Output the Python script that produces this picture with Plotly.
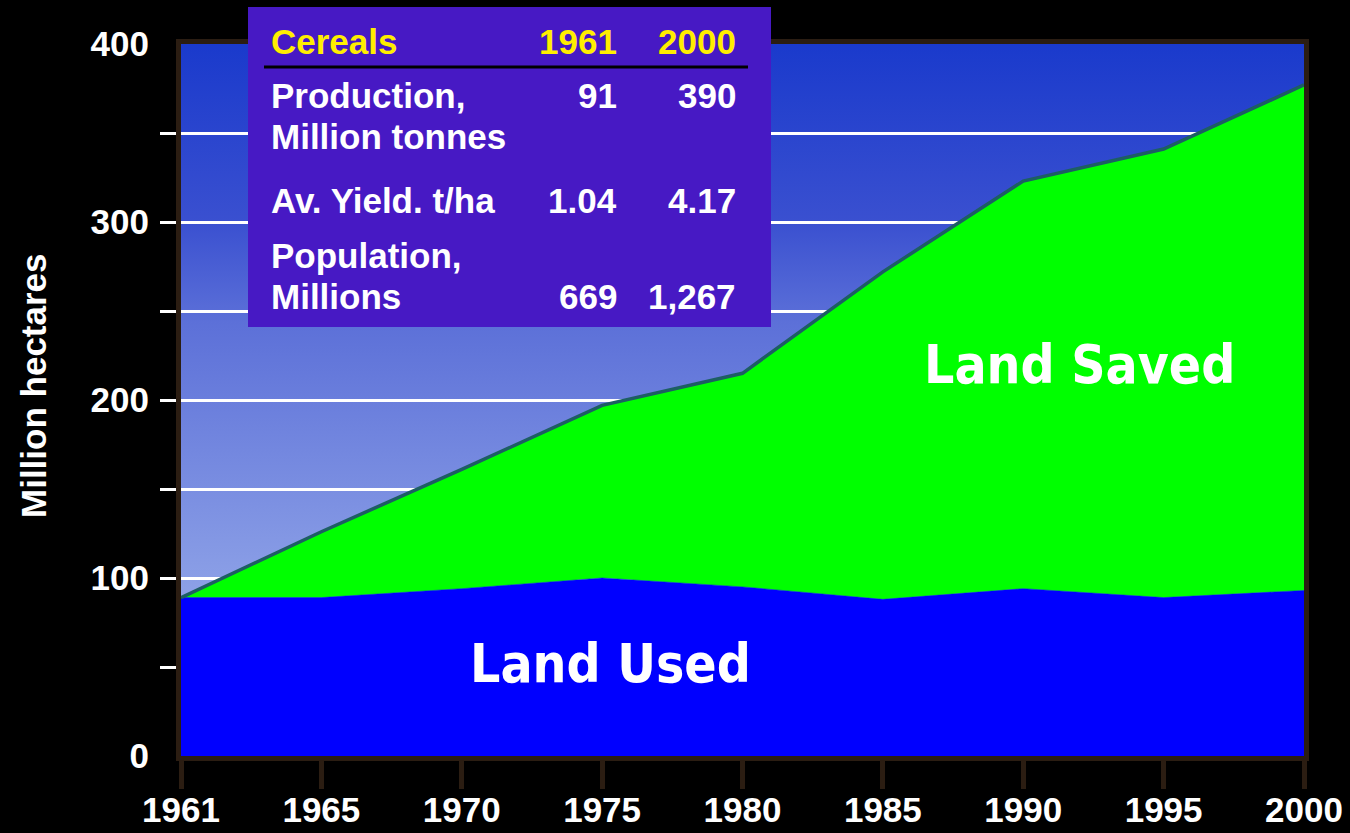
import base64
import plotly.graph_objects as go

# ---- data ----
years = ["1961", "1965", "1970", "1975", "1980", "1985", "1990", "1995", "2000"]
land_used = [89, 89, 94, 100, 95, 88, 94, 89, 93]          # million ha
land_needed = [89, 126, 161, 197, 215, 272, 323, 341, 377]  # million ha (top of green)
y_label_ticks = [0, 100, 200, 300, 400]
y_grid_ticks = [50, 100, 150, 200, 250, 300, 350]

table_header = ["Cereals", "1961", "2000"]
table_labels = [["Production,", "Million tonnes"], ["Av. Yield. t/ha"], ["Population,", "Millions"]]
table_1961 = ["91", "1.04", "669"]
table_2000 = ["390", "4.17", "1,267"]

BOLD = "Liberation Sans, Arial, sans-serif"
WIDE = "DejaVu Sans Condensed, DejaVu Sans, Verdana, sans-serif"
FRAME = "#2b1d12"

# layout geometry (pixels)
W, H = 1350, 833
ML, MR, MT, MB = 181, 46, 44, 77
PW, PH = W - ML - MR, H - MT - MB


def xp(px):
    return (px - ML) / PW


def yp(py):
    return (H - MB - py) / PH


# gradient background as svg image
svg = (
    "<svg xmlns='http://www.w3.org/2000/svg' width='100' height='100' preserveAspectRatio='none'>"
    "<defs><linearGradient id='g' x1='0' y1='0' x2='0' y2='1'>"
    "<stop offset='0' stop-color='#1a3acc'/>"
    "<stop offset='0.25' stop-color='#3a50d0'/>"
    "<stop offset='0.39' stop-color='#5c70d8'/>"
    "<stop offset='0.75' stop-color='#8a9ee6'/>"
    "<stop offset='1' stop-color='#afbff0'/>"
    "</linearGradient></defs><rect width='100' height='100' fill='url(#g)'/></svg>"
)
svg_uri = "data:image/svg+xml;base64," + base64.b64encode(svg.encode()).decode()

fig = go.Figure()
fig.add_trace(go.Scatter(
    x=years, y=land_used, mode="lines", fill="tozeroy",
    fillcolor="#0000ff", line=dict(color="#0000ff", width=0.5),
    showlegend=False, hoverinfo="skip"))
fig.add_trace(go.Scatter(
    x=years, y=land_needed, mode="lines", fill="tonexty",
    fillcolor="#00ff00", line=dict(color="#1d5e63", width=3.5),
    showlegend=False, hoverinfo="skip"))
# invisible trace to carry the label axes
fig.add_trace(go.Scatter(
    x=years, y=land_used, mode="lines", xaxis="x2", yaxis="y2", opacity=0,
    line=dict(width=0), showlegend=False, hoverinfo="skip"))

annotations = [
    dict(text="Land Saved", x=6.4, y=220, xref="x", yref="y", showarrow=False,
         font=dict(family=WIDE, size=53, color="white", weight="bold")),
    dict(text="Land Used", x=3.06, y=52, xref="x", yref="y", showarrow=False,
         font=dict(family=WIDE, size=53, color="white", weight="bold")),
    dict(text="Million hectares", x=xp(33), y=yp(386), xref="paper", yref="paper",
         xanchor="center", yanchor="middle", textangle=-90, showarrow=False,
         font=dict(family=BOLD, size=35, color="white", weight="bold")),
]

# table
tfont = dict(family=BOLD, size=35, color="white", weight="bold")
hfont = dict(family=BOLD, size=35, color="#ffee00", weight="bold")
col_x = [269, 619, 738]


def ann(text, px, py, anchor, font):
    return dict(text=text, x=xp(px), y=yp(py), xref="paper", yref="paper",
                xanchor=anchor, yanchor="middle", showarrow=False, font=font)


annotations.append(ann(table_header[0], col_x[0], 41, "left", hfont))
annotations.append(ann(table_header[1], col_x[1], 41, "right", hfont))
annotations.append(ann(table_header[2], col_x[2], 41, "right", hfont))
label_line_y = [[96, 136], [200], [256, 296]]
value_y = [96, 200, 296]
for lines, ys in zip(table_labels, label_line_y):
    for t, y in zip(lines, ys):
        annotations.append(ann(t, col_x[0], y, "left", tfont))
for v1, v2, y in zip(table_1961, table_2000, value_y):
    annotations.append(ann(v1, col_x[1], y, "right", tfont))
    annotations.append(ann(v2, col_x[2], y, "right", tfont))

shapes = [
    dict(type="rect", xref="paper", yref="paper", x0=xp(248), x1=xp(771), y0=yp(327), y1=yp(7),
         fillcolor="#4719c4", line=dict(width=0), layer="above"),
    dict(type="line", xref="paper", yref="paper", x0=xp(264), x1=xp(748), y0=yp(67), y1=yp(67),
         line=dict(color="black", width=3), layer="above"),
]

tickfont = dict(family=BOLD, size=35, color="white", weight="bold")
fig.update_layout(
    width=W, height=H,
    margin=dict(l=ML, r=MR, t=MT, b=MB),
    paper_bgcolor="black", plot_bgcolor="black",
    images=[dict(source=svg_uri, xref="paper", yref="paper", x=0, y=1, sizex=1, sizey=1,
                 xanchor="left", yanchor="top", sizing="stretch", layer="below")],
    xaxis=dict(type="category", range=[0, 8], showgrid=False, zeroline=False,
               showline=True, mirror=True, linecolor=FRAME, linewidth=5,
               ticks="outside", ticklen=28, tickwidth=5, tickcolor=FRAME,
               showticklabels=False, automargin=False),
    xaxis2=dict(type="category", range=[0, 8], overlaying="x", side="bottom", anchor="y",
                ticks="outside", ticklen=23, tickcolor="rgba(0,0,0,0)",
                showgrid=False, zeroline=False, showline=False,
                tickfont=tickfont, automargin=False),
    yaxis=dict(range=[0, 400], tickvals=y_grid_ticks, showticklabels=False,
               ticks="outside", ticklen=16, tickwidth=3, tickcolor="white",
               showgrid=True, gridcolor="white", gridwidth=3, zeroline=False,
               showline=True, mirror=True, linecolor=FRAME, linewidth=5,
               automargin=False),
    yaxis2=dict(range=[0, 400], overlaying="y", side="left", anchor="x",
                tickvals=y_label_ticks, ticks="outside", ticklen=24,
                tickcolor="rgba(0,0,0,0)", showgrid=False, zeroline=False,
                showline=False, tickfont=tickfont, automargin=False),
    annotations=annotations,
    shapes=shapes,
)

fig.write_html(
    "out.html",
    config={"displayModeBar": False},
    post_script="document.body.style.margin='0';document.body.style.background='black';"
                "document.documentElement.style.background='black';",
)
